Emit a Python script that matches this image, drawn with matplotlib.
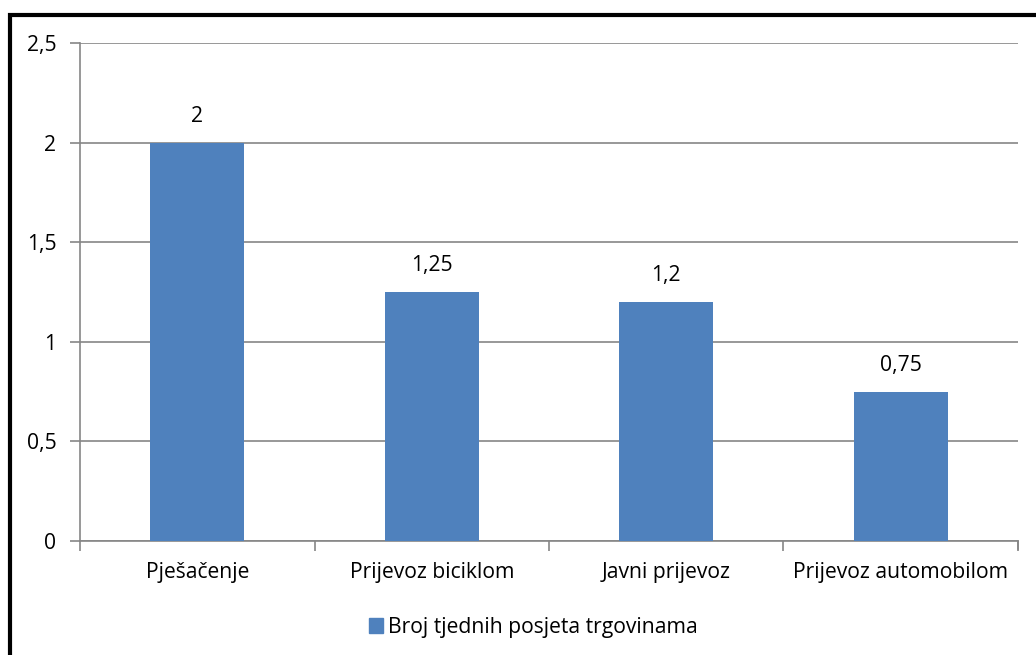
import matplotlib
matplotlib.use("Agg")
import matplotlib.pyplot as plt
from matplotlib.patches import Rectangle, Patch

categories = ["Pješačenje", "Prijevoz biciklom", "Javni prijevoz", "Prijevoz automobilom"]
values = [2, 1.25, 1.2, 0.75]
value_labels = ["2", "1,25", "1,2", "0,75"]
yticks = [0, 0.5, 1, 1.5, 2, 2.5]
ytick_labels = ["0", "0,5", "1", "1,5", "2", "2,5"]
series_name = "Broj tjednih posjeta trgovinama"

plt.rcParams['font.family'] = ['Open Sans', 'DejaVu Sans']
bar_color = "#4F81BD"
axis_grey = "#868686"
fs = 15.2

fig = plt.figure(figsize=(10.36, 6.55), dpi=100)
W, H = 1036, 655
ax = fig.add_axes([80 / W, 1 - 541 / H, (1018 - 80) / W, (541 - 43) / H])

x = list(range(len(categories)))
ax.bar(x, values, width=0.4, color=bar_color, zorder=3)
for xi, v, lab in zip(x, values, value_labels):
    ax.annotate(lab, (xi, v), xytext=(0, 19), textcoords="offset points",
                ha="center", va="center", fontsize=fs)

ax.set_xlim(-0.5, len(categories) - 0.5)
ax.set_ylim(0, 2.5)
ax.set_yticks(yticks)
ax.set_yticklabels(ytick_labels, fontsize=fs)
ax.yaxis.grid(True, color=axis_grey, linewidth=1.2, zorder=0)

# category labels sit between the boundary ticks
ax.set_xticks([i - 0.5 for i in range(len(categories) + 1)])
ax.set_xticklabels([])
ax.set_xticks(x, minor=True)
ax.set_xticklabels(categories, minor=True, fontsize=fs)
ax.tick_params(axis="x", which="minor", length=0, pad=15)
ax.tick_params(axis="x", which="major", length=7, color=axis_grey, width=1.2)
ax.tick_params(axis="y", length=7, color=axis_grey, width=1.2, pad=10)

ax.spines["top"].set_visible(False)
for s in ["left", "bottom", "right"]:
    ax.spines[s].set_color(axis_grey)
    ax.spines[s].set_linewidth(1.2)
ax.spines["right"].set_bounds(-0.04, 0)

handle = Patch(color=bar_color, label=series_name)
fig.legend(handles=[handle], loc="center", bbox_to_anchor=(533 / W, 1 - 627 / H),
           frameon=False, fontsize=fs, handlelength=0.7, handleheight=0.7,
           handletextpad=0.2)

# thick frame round the chart area
fig.patches.append(Rectangle((10 / W, -0.05), 1.2, 1 - 14.5 / H + 0.05,
                             transform=fig.transFigure, fill=False,
                             edgecolor="black", linewidth=3))

fig.savefig("out.png", dpi=100)
